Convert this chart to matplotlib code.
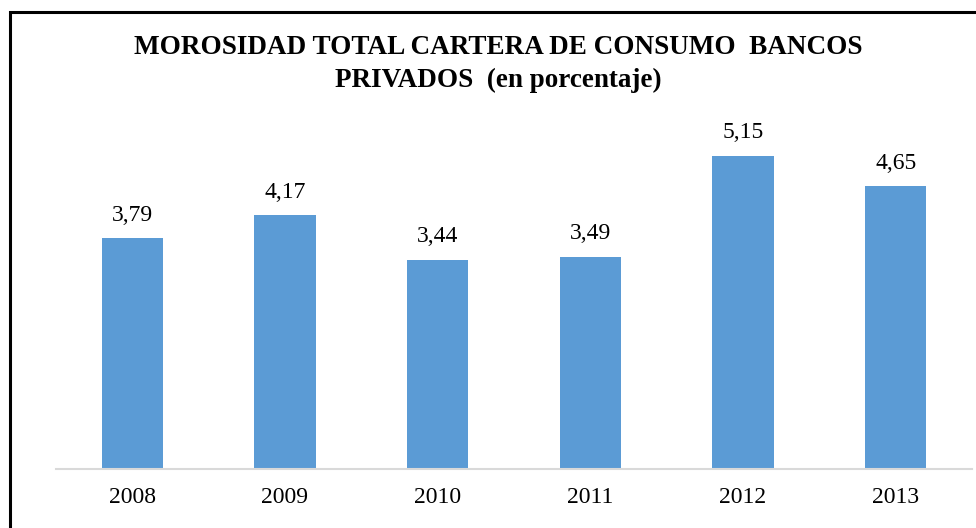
import matplotlib
matplotlib.use("Agg")
import matplotlib.pyplot as plt
from matplotlib.patches import Rectangle

years = ["2008", "2009", "2010", "2011", "2012", "2013"]
values = [3.79, 4.17, 3.44, 3.49, 5.15, 4.65]
labels = ["3,79", "4,17", "3,44", "3,49", "5,15", "4,65"]

plt.rcParams['font.family'] = ['Liberation Serif', 'DejaVu Serif']

W, H = 976, 528
fig = plt.figure(figsize=(W / 100, H / 100), dpi=100)
ax = fig.add_axes([56 / W, (H - 469) / H, 916 / W, (469 - 104) / H])

x = range(len(years))
ax.bar(x, values, width=0.4, color="#5B9BD5", zorder=2)
for i, v in enumerate(values):
    ax.annotate(labels[i], (i, v), xytext=(0, 9), textcoords="offset points",
                ha="center", va="bottom", fontsize=17)

ax.set_xlim(-0.5, len(years) - 0.5)
ax.set_ylim(0, 6)
ax.set_xticks(list(x))
ax.set_xticklabels(years, fontsize=17)
ax.set_yticks([])
ax.tick_params(axis="x", length=0, pad=13)
for s in ["top", "right", "left"]:
    ax.spines[s].set_visible(False)
ax.spines["bottom"].set_color("#D9D9D9")
ax.spines["bottom"].set_linewidth(1.5)

fig.text(498 / W, 1 - 47 / H, "MOROSIDAD TOTAL CARTERA DE CONSUMO  BANCOS",
         ha="center", va="center", fontsize=19.5, fontweight="bold")
fig.text(498 / W, 1 - 80 / H, "PRIVADOS  (en porcentaje)",
         ha="center", va="center", fontsize=19.5, fontweight="bold")

fig.patches.append(Rectangle((9.5 / W, -0.1), 1.2, 1 - 12 / H + 0.1,
                             transform=fig.transFigure, fill=False,
                             edgecolor="black", linewidth=2.2))

fig.savefig("out.png", dpi=100)
